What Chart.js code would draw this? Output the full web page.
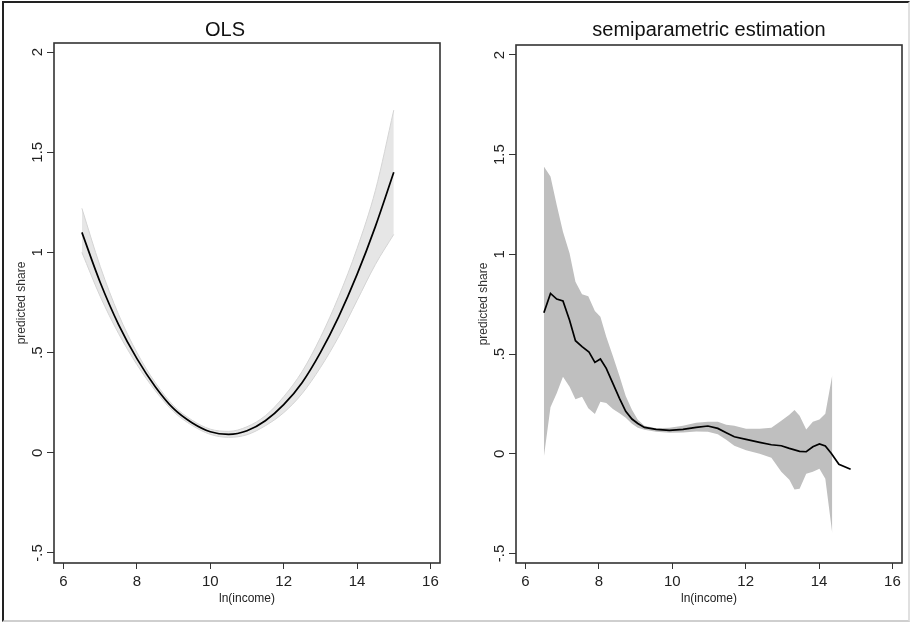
<!DOCTYPE html>
<html>
<head>
<meta charset="utf-8">
<title>predicted share</title>
<script src="https://cdn.jsdelivr.net/npm/chart.js@4.4.1/dist/chart.umd.min.js"></script>
<style>
  body { margin: 0; background: #fff; }
  #frame { position: absolute; left: 2px; top: 1px; width: 904px; height: 617px;
           border-top: 2px solid #222; border-left: 2px solid #222;
           border-bottom: 2px solid #cfcfcf; border-right: 2px solid #e0e0e0; }
  canvas { position: absolute; top: 0; }
  #olsChart { left: 0; }
  #semiChart { left: 455px; }
</style>
</head>
<body>
<div id="frame"></div>
<canvas id="olsChart" width="449" height="623"></canvas>
<canvas id="semiChart" width="455" height="623"></canvas>
<script>
// axis ticks
var xTicks = [6, 8, 10, 12, 14, 16];
var yTicks = [-0.5, 0, 0.5, 1, 1.5, 2];
var yTickLabels = ['-.5', '0', '.5', '1', '1.5', '2'];

// OLS panel
var olsX     = [6.5, 7, 7.5, 8, 8.5, 9, 9.5, 10, 10.5, 11, 11.5, 12, 12.5, 13, 13.5, 14, 14.5, 15];
var olsFit   = [1.10, 0.85, 0.64, 0.47, 0.33, 0.22, 0.15, 0.105, 0.092, 0.11, 0.16, 0.24, 0.35, 0.50, 0.68, 0.89, 1.13, 1.40];
var olsUpper = [1.22, 0.93, 0.69, 0.50, 0.35, 0.235, 0.163, 0.118, 0.107, 0.13, 0.185, 0.28, 0.405, 0.575, 0.78, 1.02, 1.31, 1.71];
var olsLower = [1.00, 0.78, 0.595, 0.44, 0.31, 0.205, 0.137, 0.092, 0.077, 0.09, 0.135, 0.20, 0.295, 0.425, 0.58, 0.76, 0.94, 1.09];

// semiparametric panel
var semiX   = [6.5, 6.68, 6.85, 7.02, 7.2, 7.36, 7.54, 7.73, 7.89, 8.04, 8.2, 8.38, 8.56, 8.73, 8.9, 9.06, 9.24, 9.56, 9.92,
               10.29, 10.65, 10.97, 11.24, 11.47, 11.69, 12.01, 12.38, 12.7, 12.97, 13.19, 13.47, 13.65, 13.83, 14.01, 14.17, 14.33, 14.54, 14.86];
var semiFit = [0.707, 0.804, 0.776, 0.766, 0.67, 0.567, 0.537, 0.51, 0.458, 0.475, 0.428, 0.353, 0.278, 0.213, 0.174, 0.152, 0.132, 0.122, 0.117,
               0.122, 0.132, 0.139, 0.127, 0.105, 0.085, 0.072, 0.057, 0.045, 0.04, 0.027, 0.012, 0.01, 0.035, 0.049, 0.039, 0.002, -0.053, -0.078];
var bandX     = [6.5, 6.68, 6.85, 7.02, 7.2, 7.36, 7.54, 7.71, 7.89, 8.04, 8.2, 8.38, 8.56, 8.73, 8.9, 9.06, 9.24, 9.56, 9.92,
                 10.29, 10.65, 10.97, 11.24, 11.47, 11.69, 12.01, 12.38, 12.7, 12.97, 13.19, 13.33, 13.47, 13.65, 13.83, 14.01, 14.17, 14.36];
var semiUpper = [1.44, 1.39, 1.247, 1.113, 1.005, 0.863, 0.80, 0.79, 0.716, 0.687, 0.587, 0.49, 0.39, 0.29, 0.22, 0.17, 0.14, 0.128, 0.13,
                 0.14, 0.155, 0.16, 0.16, 0.145, 0.14, 0.125, 0.125, 0.13, 0.165, 0.195, 0.219, 0.19, 0.122, 0.16, 0.172, 0.2, 0.395];
var semiLower = [-0.015, 0.233, 0.303, 0.386, 0.336, 0.273, 0.286, 0.228, 0.199, 0.261, 0.255, 0.225, 0.203, 0.18, 0.15, 0.13, 0.12, 0.11, 0.105,
                 0.106, 0.112, 0.11, 0.098, 0.07, 0.04, 0.018, 0.0, -0.02, -0.09, -0.13, -0.179, -0.176, -0.10, -0.09, -0.075, -0.125, -0.40];

var FONT = '"Liberation Sans", Arial, sans-serif';

function pts(xs, ys) {
  var out = [];
  for (var i = 0; i < xs.length; i++) {
    out.push({ x: xs[i], y: ys[i] });
  }
  return out;
}

// box round the plot region + rotated y labels (stata style)
var plotBox = {
  id: 'plotBox',
  afterDraw: function(chart) {
    var ctx = chart.ctx;
    var a = chart.chartArea;
    var ys = chart.scales.y;
    ctx.save();
    ctx.strokeStyle = '#333';
    ctx.lineWidth = 1.6;
    ctx.strokeRect(a.left, a.top, a.right - a.left, a.bottom - a.top);
    ctx.font = '15px ' + FONT;
    ctx.fillStyle = '#222';
    ctx.textAlign = 'center';
    ctx.textBaseline = 'alphabetic';
    for (var i = 0; i < yTicks.length; i++) {
      var py = ys.getPixelForValue(yTicks[i]);
      ctx.save();
      ctx.translate(a.left - 12, py);
      ctx.rotate(-Math.PI / 2);
      ctx.fillText(yTickLabels[i], 0, 0);
      ctx.restore();
    }
    ctx.restore();
  }
};

function makeChart(id, title, opts) {
  var tension = opts.smooth ? 0.4 : 0;
  var mode = opts.smooth ? 'monotone' : 'default';
  var datasets = [
    { data: pts(opts.fitX, opts.fit), borderColor: '#000', borderWidth: 1.7, pointRadius: 0,
      tension: tension, cubicInterpolationMode: mode, fill: false },
    { data: pts(opts.bandX, opts.upper), borderColor: opts.edge, borderWidth: opts.edge ? 1 : 0,
      pointRadius: 0, tension: tension, cubicInterpolationMode: mode, fill: false },
    { data: pts(opts.bandX, opts.lower), borderColor: opts.edge, borderWidth: opts.edge ? 1 : 0,
      pointRadius: 0, tension: tension, cubicInterpolationMode: mode, fill: '-1', backgroundColor: opts.band }
  ];

  return new Chart(document.getElementById(id), {
    type: 'line',
    data: { datasets: datasets },
    options: {
      responsive: false,
      animation: false,
      layout: { padding: opts.padding },
      plugins: {
        legend: { display: false },
        tooltip: { enabled: false },
        title: {
          display: true, text: title, color: '#111', fullSize: opts.titleFull,
          font: { family: FONT, size: 20, weight: 'normal' },
          padding: { top: 18, bottom: opts.titleGap }
        }
      },
      scales: {
        x: {
          type: 'linear', min: 5.74, max: 16.26,
          afterBuildTicks: function(s) { s.ticks = xTicks.map(function(v) { return { value: v }; }); },
          afterFit: function(s) { s.height = 47; },
          grid: { drawOnChartArea: false, drawTicks: true, tickLength: 6, color: '#333' },
          border: { display: false },
          ticks: { color: '#222', font: { family: FONT, size: 15 }, padding: 4, maxRotation: 0 },
          title: { display: true, text: 'ln(income)', color: '#222', font: { family: FONT, size: 12 }, padding: 4 }
        },
        y: {
          type: 'linear', min: opts.ymin, max: opts.ymax,
          afterBuildTicks: function(s) { s.ticks = yTicks.map(function(v) { return { value: v }; }); },
          afterFit: function(s) { s.width = 44; },
          grid: { drawOnChartArea: false, drawTicks: true, tickLength: 7, color: '#333' },
          border: { display: false },
          ticks: { display: false },
          title: { display: true, text: 'predicted share', color: '#333', font: { family: FONT, size: 12 }, padding: 4 }
        }
      }
    },
    plugins: [plotBox]
  });
}

var olsChart = makeChart('olsChart', 'OLS', {
  fitX: olsX, fit: olsFit, bandX: olsX, upper: olsUpper, lower: olsLower,
  smooth: true, band: '#e6e6e6', edge: '#d4d4d4',
  padding: { left: 10, right: 9, top: 0, bottom: 13 },
  titleFull: true, titleGap: 1, ymin: -0.55, ymax: 2.045
});

var semiChart = makeChart('semiChart', 'semiparametric estimation', {
  fitX: semiX, fit: semiFit, bandX: bandX, upper: semiUpper, lower: semiLower,
  smooth: false, band: '#bfbfbf', edge: null,
  padding: { left: 17, right: 8, top: 0, bottom: 13 },
  titleFull: false, titleGap: 3, ymin: -0.548, ymax: 2.05
});
console.log('charts drawn', olsChart.chartArea, semiChart.chartArea);
</script>
</body>
</html>
